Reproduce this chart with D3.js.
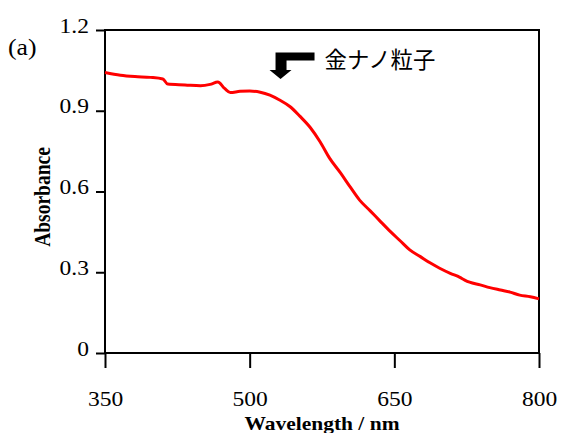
<!DOCTYPE html>
<html><head><meta charset="utf-8">
<script src="https://cdn.jsdelivr.net/npm/d3@7"></script>
<style>body{margin:0;background:#fff}</style>
</head><body>
<svg id="c" width="561" height="433"></svg>
<script>
const wavelength = [350,366,381,397,410,415,433,449,459,467,474,480,490,500,511,521,531,542,552,563,573,583,594,604,614,625,635,646,656,666,677,687,697,708,718,723,728,739,749,760,770,780,791,800];
const absorbance = [1.042,1.032,1.027,1.024,1.018,0.999,0.996,0.993,0.998,1.007,0.983,0.968,0.972,0.973,0.969,0.958,0.940,0.915,0.880,0.837,0.785,0.723,0.670,0.618,0.568,0.528,0.491,0.451,0.417,0.383,0.358,0.335,0.315,0.296,0.281,0.271,0.263,0.253,0.243,0.234,0.226,0.215,0.209,0.201];
const xTicks = [350,500,650,800];
const yTicks = [0,0.3,0.6,0.9,1.2];
const yTickLabels = ["0","0.3","0.6","0.9","1.2"];
const xTitle = "Wavelength / nm";
const yTitle = "Absorbance";
const panelLabel = "(a)";
const annotation = "金ナノ粒子";

const svg = d3.select("#c");
const L=105, R=539, T=30, B=353;
const x = d3.scaleLinear().domain([350,800]).range([L,R]);
const y = d3.scaleLinear().domain([0,1.2]).range([B,T]);
const serif = "'Liberation Serif','Times New Roman',serif";
const SX = 1.12;

// frame
svg.append("rect").attr("x",L).attr("y",T).attr("width",R-L).attr("height",B-T)
  .attr("fill","none").attr("stroke","#000").attr("stroke-width",2);

// x axis
const xa = svg.append("g").attr("transform",`translate(0,${B})`)
  .call(d3.axisBottom(x).tickValues(xTicks).tickSize(15).tickFormat(d3.format("d")));
xa.select(".domain").remove();
xa.selectAll("line").attr("stroke","#000").attr("stroke-width",2);
xa.selectAll("text").attr("font-family",serif).attr("font-size",21).attr("fill","#000")
  .attr("y",null).attr("dy",null).attr("transform",`translate(0,53) scale(${SX},1)`);

// y axis
const ya = svg.append("g").attr("transform",`translate(${L},0)`)
  .call(d3.axisLeft(y).tickValues(yTicks).tickSize(9).tickFormat((d,i)=>yTickLabels[i]));
ya.select(".domain").remove();
ya.selectAll("line").attr("stroke","#000").attr("stroke-width",2);
ya.selectAll("text").attr("font-family",serif).attr("font-size",21).attr("fill","#000")
  .attr("x",null).attr("dy",null).attr("transform",`translate(-16,2) scale(${SX},1)`);

// line
svg.append("path").datum(wavelength.map((w,i)=>[w,absorbance[i]]))
  .attr("fill","none").attr("stroke","#ff0000").attr("stroke-width",3)
  .attr("stroke-linejoin","round")
  .attr("d", d3.line().x(d=>x(d[0])).y(d=>y(d[1])).curve(d3.curveMonotoneX));

// titles
svg.append("text").attr("transform",`translate(${(L+R)/2},430) scale(1.13,1)`).attr("text-anchor","middle")
  .attr("font-family",serif).attr("font-weight","bold").attr("font-size",19).text(xTitle);
svg.append("text").attr("transform","translate(50,197) rotate(-90) scale(1,1.13)").attr("text-anchor","middle")
  .attr("font-family",serif).attr("font-weight","bold").attr("font-size",19.5).text(yTitle);
svg.append("text").attr("transform",`translate(8,55) scale(${SX},1)`).attr("font-family",serif).attr("font-size",23).text(panelLabel);

// annotation arrow
const ax = x(532), ay = y(1.2);
const arrow = `M${ax-5},${ay+22.5} L${ax+34},${ay+22.5} L${ax+34},${ay+30.5} L${ax+6},${ay+30.5} L${ax+6},${ay+40} L${ax+11},${ay+40} L${ax},${ay+49} L${ax-11},${ay+40} L${ax-5},${ay+40} Z`;
svg.append("path").attr("d",arrow).attr("fill","#000");
svg.append("text").attr("x",ax+44).attr("y",ay+38).attr("font-family","'Noto Sans CJK JP',sans-serif")
  .attr("font-size",22.4).attr("fill","#000").text(annotation);
</script>
</body></html>
